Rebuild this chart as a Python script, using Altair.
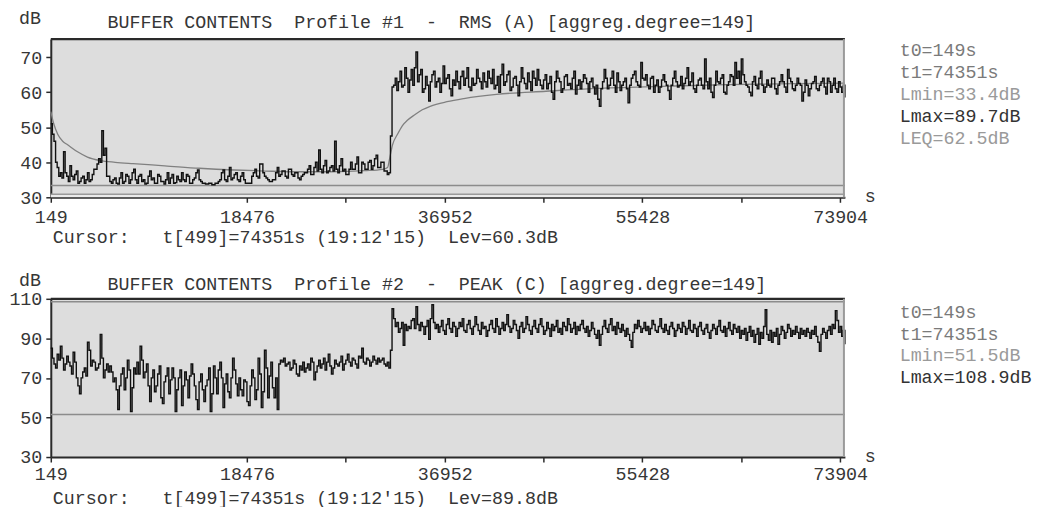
import altair as alt
import pandas as pd

# ---------------- data ----------------
T_START, T_END = 149, 74351
X_LABELED = [149, 18476, 36952, 55428, 73904]
X_MINOR = [27714, 46190, 64666]

# Profile #1 - RMS (A), dB, 499 samples (t = 149 s ... 74351 s)
rms_db = [
    51, 48, 46, 40, 38.5, 36, 37, 35.5, 43, 37, 36, 34.5, 39, 36, 35, 36.5, 37.5, 34, 34.5, 35.5,
    36, 34, 35, 37, 34.5, 35, 36.5, 38, 38, 39.5, 41, 40, 49, 42, 44, 36, 36, 34.5, 34, 35,
    35.5, 34, 33.8, 35.5, 37, 34, 34.5, 36.5, 36, 34, 35, 37, 38, 35, 34, 36, 36.5, 34.5, 35, 33.8,
    34, 36, 37.5, 35, 35.5, 34, 34, 36.5, 36, 34.5, 34.5, 33.8, 35, 37, 34, 35.5, 36.5, 34, 34.2, 36,
    35, 34.5, 37, 35, 34.5, 36.5, 36, 34, 34, 35, 35.5, 37, 37.8, 35, 34.5, 34, 34, 33.8, 33.8, 34,
    34, 33.6, 33.6, 34, 34, 34.5, 35, 37, 37.8, 35, 34.5, 36, 38.5, 35, 35.5, 36.5, 37, 35, 34.5, 36,
    37, 35, 34, 34, 34, 34, 36, 37, 38, 36, 35.5, 39.5, 39.5, 37, 36, 35.5, 35, 34.5, 34.5, 35,
    35, 37, 38.5, 36, 36.5, 37.5, 37.5, 36, 35.5, 38, 38, 36.5, 36, 37, 37, 35.5, 35, 36, 36.5, 37,
    37, 38, 39, 36.5, 36.5, 38.5, 40, 37.5, 43.5, 38, 37, 39, 40.5, 37, 37.5, 38.5, 39, 37.5, 46, 38,
    37, 39, 41, 37.5, 38, 36.5, 36.5, 38, 40, 38, 38, 39.5, 41.5, 37, 37, 40, 39.5, 38, 38, 40,
    40.5, 38, 39, 41, 42, 38.5, 38.5, 40, 40, 37.5, 37.5, 36.5, 37, 47.5, 61.5,
    62, 64, 60.5, 63, 66, 61.5, 62, 67, 64, 60, 63.5, 66.5, 62, 67, 71.5, 63, 65, 66.5, 60, 61,
    64.5, 62, 57.5, 63, 65, 66, 61.5, 63, 64, 60, 62.5, 67.5, 62.5, 64, 65, 61, 59, 63.5, 62, 66,
    63, 61, 64.5, 66, 62, 64, 67, 61.5, 60.5, 64, 62, 62.5, 66.5, 64, 63, 61, 65.5, 63, 61.5, 66,
    64, 62.5, 66.5, 61, 62, 64.5, 60, 65, 68, 62, 63, 65, 66, 60.5, 61.5, 64, 64.5, 62, 59, 63,
    67, 64, 62.5, 61, 65.5, 63, 60.5, 66, 64, 62, 66.5, 63.5, 62, 61, 63.5, 65, 61, 62.5, 64.5, 60,
    58, 63, 66, 64, 63, 60, 61, 64.5, 65, 62, 62.5, 61, 64, 66, 59.5, 62, 63.5, 61, 63, 65,
    64, 62.5, 60, 63, 64, 61.5, 59.5, 62, 58, 56, 61, 63, 66.5, 64, 61, 62, 64, 66, 62, 60,
    65.5, 63, 60.5, 62, 63, 64, 61, 57, 62, 64, 65, 66, 63, 62, 61.5, 68.5, 64, 63.5, 65, 62,
    61, 64, 64.5, 60, 62, 63.5, 60, 61.5, 63.5, 65, 63, 62, 60.5, 58, 62, 64, 66, 63, 61.5, 62,
    64.5, 61, 62.5, 64, 67, 62, 63, 65.5, 61, 60, 62, 63.5, 64, 62, 61, 69.5, 63, 61, 64, 60,
    58.5, 62, 66, 63, 62.5, 64, 65, 60, 59.5, 62, 63, 65, 64.5, 62, 68.5, 64, 66, 62.5, 69.5, 65,
    63, 62, 61.5, 60, 59, 63, 64.5, 62, 61, 64, 66, 62, 60, 61.5, 63.5, 62, 61.5, 64, 64, 61,
    59.5, 62, 63, 65, 63, 61.5, 60, 66.5, 64, 63, 61, 60.5, 62, 64, 62.5, 62, 57.5, 60, 63.5, 62,
    59, 61, 62.5, 63, 64.5, 61, 60.5, 62, 63, 64, 61.5, 59.5, 64, 63, 60, 62, 64, 61, 60, 63,
    61.5, 60, 62, 58.5,
]

# running LEQ of profile #1 (seconds, dB)
leq_t = [149, 427, 797, 1260, 1722, 2648, 3573, 4777, 6165, 7831, 10793, 14033, 17272, 20234,
         23289, 26343, 29490, 31156, 31619, 31804, 32082, 32545, 33008, 33470, 34118, 34859,
         35599, 37173, 38746, 41800, 46429, 51057, 57258, 63367, 69569, 74351]
leq_db = [54.5, 51, 48, 46, 45, 43, 41.5, 40.5, 40, 39.6, 39, 38.3, 37.8, 37.5,
          37.3, 37.3, 37.6, 38, 38.5, 41, 45, 48, 50.5, 52, 53.5, 55,
          56, 57.3, 58.2, 59.4, 60.3, 61.1, 61.7, 62.2, 62.5, 62.6]

# Profile #2 - PEAK (C), dB, 499 samples
peak_db = [
    85, 80, 77, 75, 82, 79, 86, 80, 74, 77, 81, 78, 76, 72, 83, 78, 70, 66, 62, 70,
    73, 75, 71, 88, 84, 76, 79, 78, 74, 75, 77, 92, 80, 70, 74, 77, 73, 76, 73, 68,
    70, 64, 54, 66, 72, 75, 64, 70, 79, 74, 53, 65, 75, 72, 78, 72, 86, 79, 70, 73,
    77, 66, 58, 70, 74, 63, 66, 72, 76, 60, 57, 68, 71, 75, 62, 69, 75, 70, 53, 64,
    70, 74, 56, 66, 73, 69, 60, 71, 77, 72, 66, 59, 54, 68, 72, 64, 58, 66, 69, 75,
    53, 62, 76, 70, 62, 74, 78, 70, 55, 67, 72, 63, 60, 70, 80, 74, 67, 61, 70, 64,
    61, 69, 68, 58, 56, 66, 74, 70, 59, 64, 80, 72, 55, 63, 84, 75, 60, 71, 78, 65,
    60, 70, 54, 77, 79, 78, 80, 76, 77, 78, 74, 75, 79, 77, 72, 71, 76, 74, 78, 73,
    75, 77, 74, 80, 78, 69, 73, 76, 79, 75, 77, 80, 74, 78, 82, 76, 72, 75, 79, 77,
    76, 78, 81, 74, 77, 79, 82, 78, 76, 80, 79, 77, 75, 81, 80, 85, 78, 77, 80, 79,
    76, 78, 81, 79, 77, 80, 78, 79, 80, 77, 76, 78, 75, 84,
    105, 100, 96, 98, 93, 95, 98, 86.5, 97, 94, 96, 95, 99, 100, 95, 106, 97, 94, 98, 96,
    92, 96, 99, 89.5, 100, 107, 98, 95, 97, 93, 96, 99, 94, 92, 97, 100, 95, 93, 98, 96,
    91, 95, 98, 96, 100, 94, 93, 97, 99, 95, 92, 96, 101, 97, 94, 92, 98, 95, 96, 91,
    94, 97, 99, 95, 93, 100, 96, 92, 95, 98, 94, 97, 102, 96, 93, 95, 99, 97, 94, 90,
    96, 98, 93, 95, 101, 97, 94, 92, 96, 99, 95, 93, 97, 100, 96, 92, 94, 98, 95, 91,
    97, 94, 96, 99, 93, 95, 92, 98, 96, 94, 100, 97, 93, 95, 98, 92, 96, 94, 97, 99,
    95, 93, 96, 91, 94, 98, 95, 92, 90, 94, 86.5, 92, 96, 99, 95, 93, 97, 100, 94, 96,
    92, 98, 95, 93, 97, 94, 91, 95, 92, 89, 85.5, 93, 97, 95, 99, 96, 93, 95, 98, 94,
    96, 92, 95, 99, 97, 94, 93, 96, 100, 95, 93, 97, 94, 92, 96, 98, 95, 91, 94, 97,
    95, 93, 98, 96, 92, 95, 99, 94, 93, 97, 95, 91, 96, 98, 94, 92, 95, 97, 93, 90,
    94, 97, 95, 92, 96, 99, 94, 93, 96, 91, 95, 98, 94, 92, 97, 95, 93, 96, 90, 94,
    92, 95, 89, 93, 96, 91, 94, 88, 92, 95, 87, 93, 90, 96, 104.5, 92, 89, 94, 88, 93,
    91, 95, 87, 92, 96, 94, 90, 93, 97, 95, 91, 94, 92, 96, 93, 90, 95, 92, 94, 91,
    95, 93, 90, 94, 92, 96, 91, 88, 83.5, 92, 95, 93, 90, 94, 96, 92, 97, 95, 104, 99,
    93, 96, 91, 94, 87,
]

# ---------------- style ----------------
FONT = "Liberation Mono"
FS = 18.4
W, H = 798, 159
DARK = "#2a2a2a"
TXT = "#363636"
NBSP = "\u00a0"


def times(n):
    return [T_START + i * (T_END - T_START) / (n - 1) for i in range(n)]


def one():
    return pd.DataFrame({"k": [0]})


def label(text, x, y, color=TXT, align="left"):
    return alt.Chart(one()).mark_text(
        font=FONT, fontSize=FS, color=color, align=align, baseline="middle"
    ).encode(x=alt.value(x), y=alt.value(y), text=alt.value(text.replace(" ", NBSP)))


def panel(series, y_dom, y_ticks, lmin, title, cursor, stats, leq=None,
          strip=False, double_top=False, dy_db=-21, dy_title=-17, dy_cur=199,
          stat_y0=11, xpad=3):
    xs = alt.Scale(domain=[T_START, T_END], nice=False, zero=False)
    ys = alt.Scale(domain=y_dom, nice=False, zero=False)
    x_axis = alt.Axis(
        values=X_LABELED + X_MINOR, format="d",
        labelExpr="indexof([27714,46190,64666], datum.value) >= 0 ? '' : datum.label",
        title=None, grid=False, domainColor=DARK, domainWidth=2,
        tickColor=DARK, tickWidth=1.5, tickSize=5,
        labelFont=FONT, labelFontSize=FS, labelColor=TXT, labelPadding=xpad,
        labelFlush=False, labelOverlap=False,
    )
    y_axis = alt.Axis(
        values=y_ticks, format="d", title=None, grid=False,
        domainColor=DARK, domainWidth=2, tickColor=DARK, tickWidth=1.5, tickSize=5,
        labelFont=FONT, labelFontSize=FS, labelColor=TXT, labelPadding=4,
        labelOverlap=False,
    )
    X = lambda: alt.X("t:Q", scale=xs, axis=x_axis)
    Y = lambda: alt.Y("db:Q", scale=ys, axis=y_axis)
    df = pd.DataFrame({"t": times(len(series)), "db": series})
    layers = []
    if strip:
        layers.append(alt.Chart(one()).mark_rect(color="#ebebeb").encode(
            x=alt.value(0), x2=alt.value(W), y=alt.value(H - 3), y2=alt.value(H)))
        layers.append(alt.Chart(one()).mark_rule(color="#9a9a9a", strokeWidth=1.5).encode(
            x=alt.value(0), x2=alt.value(W), y=alt.value(H - 3)))
    ldf_min = pd.DataFrame({"t": [T_START, T_END], "db": [lmin, lmin]})
    layers.append(alt.Chart(ldf_min).mark_line(color="#8c8c8c", strokeWidth=1.5).encode(
        x=X(), y=Y()))
    if leq is not None:
        ldf = pd.DataFrame({"t": leq[0], "db": leq[1]})
        layers.append(alt.Chart(ldf).mark_line(
            color="#808080", strokeWidth=1.3, interpolate="monotone").encode(x=X(), y=Y()))
    layers.append(alt.Chart(df).mark_line(
        color="#111111", strokeWidth=1.4, interpolate="step-after").encode(x=X(), y=Y()))
    # frame
    layers.append(alt.Chart(one()).mark_rule(color=DARK, strokeWidth=2.2).encode(
        x=alt.value(0), x2=alt.value(W), y=alt.value(0)))
    if double_top:
        layers.append(alt.Chart(one()).mark_rule(color="#8c8c8c", strokeWidth=1.5).encode(
            x=alt.value(0), x2=alt.value(W), y=alt.value(3)))
    layers.append(alt.Chart(one()).mark_rule(color="#9a9a9a", strokeWidth=2).encode(
        x=alt.value(W - 1), y=alt.value(0), y2=alt.value(H)))
    # texts
    layers.append(label("dB", -21, dy_db, align="center"))
    layers.append(label(title, 57, dy_title))
    layers.append(label(cursor, 2, dy_cur))
    layers.append(label("s", 818, H - 1))
    for k, (s, c) in enumerate(stats):
        layers.append(label(s, 853, stat_y0 + 22 * k, color=c))
    return alt.layer(*layers).properties(width=W, height=H)


GRAY1 = "#7a7a7a"
GRAY2 = "#9a9a9a"

p1 = panel(
    rms_db, [30, 75.2], [30, 40, 50, 60, 70], 33.4,
    "BUFFER CONTENTS  Profile #1  -  RMS (A) [aggreg.degree=149]",
    "Cursor:   t[499]=74351s (19:12'15)  Lev=60.3dB",
    [("t0=149s", GRAY1), ("t1=74351s", GRAY1), ("Lmin=33.4dB", GRAY2),
     ("Lmax=89.7dB", "#333333"), ("LEQ=62.5dB", GRAY2)],
    leq=(leq_t, leq_db), strip=True, dy_db=-21, dy_title=-17, dy_cur=199,
    stat_y0=11, xpad=5,
)
p2 = panel(
    peak_db, [30, 110], [30, 50, 70, 90, 110], 51.5,
    "BUFFER CONTENTS  Profile #2  -  PEAK (C) [aggreg.degree=149]",
    "Cursor:   t[499]=74351s (19:12'15)  Lev=89.8dB",
    [("t0=149s", GRAY1), ("t1=74351s", GRAY1), ("Lmin=51.5dB", GRAY2),
     ("Lmax=108.9dB", "#333333")],
    double_top=True, dy_db=-19, dy_title=-15, dy_cur=200, stat_y0=13, xpad=3,
)

chart = alt.vconcat(p1, p2, spacing=24).resolve_scale(
    x="independent", y="independent"
).resolve_axis(x="independent", y="independent").properties(
    padding={"left": 0, "top": 0, "right": 0, "bottom": 0},
    background="white",
).configure_view(fill="#dddddd", stroke=None)

chart.save("out.html", embed_options={"renderer": "svg", "actions": False})
